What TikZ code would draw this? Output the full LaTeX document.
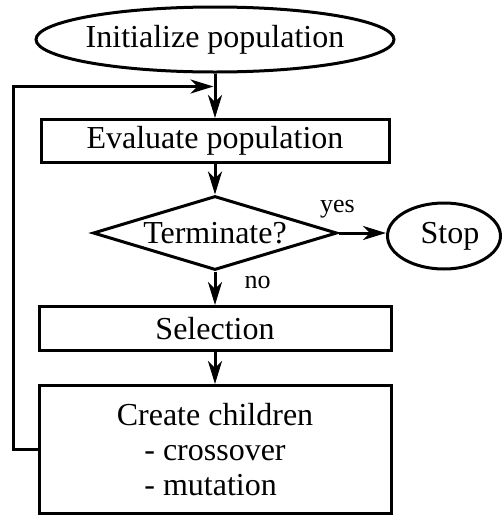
\documentclass[tikz,border=0pt]{standalone}
\usepackage{fontspec}
\setmainfont{Liberation Serif}
\usetikzlibrary{shapes.geometric,arrows.meta}
\begin{document}
\begin{tikzpicture}[x=1pt,y=-1pt,
  every node/.style={font=\fontsize{32}{34.7}\selectfont, inner sep=0pt},
  shapeline/.style={draw, line width=3pt},
  box/.style={shapeline, rectangle},
  oval/.style={shapeline, ellipse},
  decision/.style={shapeline, diamond},
  edgelabel/.style={font=\fontsize{26}{30}\selectfont, anchor=base},
  flow/.style={line width=3pt, -{Stealth[length=23pt,width=14pt,inset=7pt]}}
]
\useasboundingbox (0,0) rectangle (502,515);

% process steps
\node[oval, minimum width=358pt, minimum height=65pt,
      label=center:{Initialize population}] (init) at (215,39.5) {};
\node[box, minimum width=348pt, minimum height=43pt] (eval) at (215,141) {Evaluate population};
\node[decision, minimum width=244pt, minimum height=74pt,
      label=center:{Terminate?}] (term) at (215,233) {};
\node[oval, minimum width=113pt, minimum height=66pt,
      label={[xshift=6pt]center:Stop}] (stop) at (444,236) {};
\node[box, minimum width=352pt, minimum height=44pt] (sel) at (215,328.5) {Selection};
\node[box, minimum width=352pt, minimum height=128pt, align=center] (create) at (215,449.5)
  {Create children\\ - crossover\\ \rlap{- mutation}\phantom{- crossover}};

% branch labels
\node[edgelabel] (yes) at (337.5,212.7) {yes};
\node[edgelabel] (no) at (257.5,288.3) {no};

% main flow
\draw[flow] (init.south) -- (eval.north);
\draw[flow] (eval.south) -- (term.north);
\draw[flow] (term.east) -- (term.east -| stop.west);
\draw[flow] (term.south) -- (sel.north);
\draw[flow] (sel.south) -- (create.north);

% loop back to evaluation
\coordinate (merge) at (213.5,86.5);
\draw[flow] (create.west) -- ++(-24.5,0) |- (merge);
\end{tikzpicture}
\end{document}
